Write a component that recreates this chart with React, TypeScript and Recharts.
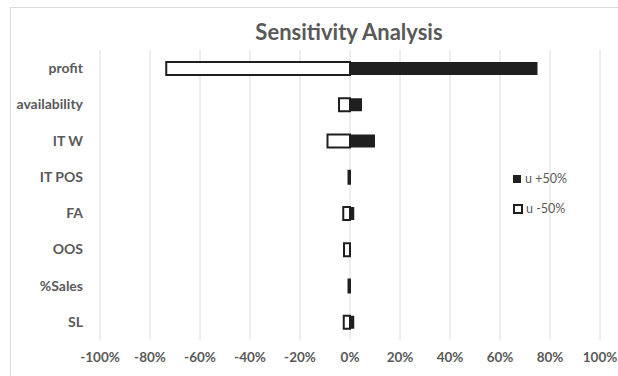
import { BarChart, Bar, XAxis, YAxis, CartesianGrid } from 'recharts';

// Sensitivity of the result to +/-50% changes in each input
const categories = ['profit', 'availability', 'IT W', 'IT POS', 'FA', 'OOS', '%Sales', 'SL'];
const upValues = [75, 4.8, 10, 0, 1.7, 0, 0, 1.7];
const downValues = [-73.5, -4.4, -9, -0.6, -2.7, -2.4, -0.6, -2.5];
const xTicks = [-100, -80, -60, -40, -20, 0, 20, 40, 60, 80, 100];
const seriesNames = ['u +50%', 'u -50%'];

const data = categories.map((name, i) => ({ name, up: upValues[i], down: downValues[i] }));

const FONT = 'Lato, "Open Sans", sans-serif';
const GREY = '#595959';

function LegendBox() {
  return (
    <div style={{ fontFamily: FONT, fontSize: 12.5, color: GREY, lineHeight: '14px' }}>
      <div style={{ display: 'flex', alignItems: 'center', marginBottom: 16 }}>
        <span style={{ width: 8, height: 8, background: '#1f1f1f', marginRight: 4 }} />
        {seriesNames[0]}
      </div>
      <div style={{ display: 'flex', alignItems: 'center' }}>
        <span style={{ width: 6, height: 6, background: '#fff', border: '2px solid #1f1f1f', marginRight: 3 }} />
        {seriesNames[1]}
      </div>
    </div>
  );
}

export default function App() {
  return (
    <div style={{ position: 'absolute', left: 0, top: 0, width: 618, height: 376, overflow: 'hidden', background: '#fff' }}>
      <div style={{ position: 'absolute', left: 10, top: 7, width: 700, height: 400, border: '1px solid #d9d9d9' }} />
      <div
        style={{
          position: 'absolute', left: 0, top: 18, width: 698, textAlign: 'center',
          fontFamily: FONT, fontWeight: 'bold', fontSize: 22, color: GREY,
        }}
      >
        Sensitivity Analysis
      </div>
      <div style={{ position: 'absolute', left: 0, top: 0 }}>
        <BarChart
          width={618}
          height={376}
          data={data}
          layout="vertical"
          stackOffset="sign"
          margin={{ top: 50, right: 18, bottom: 6, left: 10 }}
        >
          <CartesianGrid horizontal={false} stroke="#dcdcdc" />
          <XAxis
            type="number"
            domain={[-100, 100]}
            ticks={xTicks}
            tickFormatter={(v: number) => `${v}%`}
            axisLine={false}
            tickLine={false}
            tickSize={0}
            tickMargin={12}
            height={30}
            tick={{ fontFamily: FONT, fontSize: 13.5, fontWeight: 'bold', fill: GREY }}
            interval={0}
          />
          <YAxis
            type="category"
            dataKey="name"
            width={90}
            axisLine={false}
            tickLine={false}
            tickSize={0}
            tickMargin={17}
            tick={{ fontFamily: FONT, fontSize: 14, fontWeight: 'bold', fill: GREY }}
            interval={0}
          />
          <Bar dataKey="up" name={seriesNames[0]} stackId="s" fill="#1f1f1f" barSize={13} isAnimationActive={false} />
          <Bar
            dataKey="down"
            name={seriesNames[1]}
            stackId="s"
            fill="#ffffff"
            stroke="#1f1f1f"
            strokeWidth={2}
            barSize={13}
            isAnimationActive={false}
          />
        </BarChart>
      </div>
      <div style={{ position: 'absolute', left: 513, top: 172 }}>
        <LegendBox />
      </div>
    </div>
  );
}
